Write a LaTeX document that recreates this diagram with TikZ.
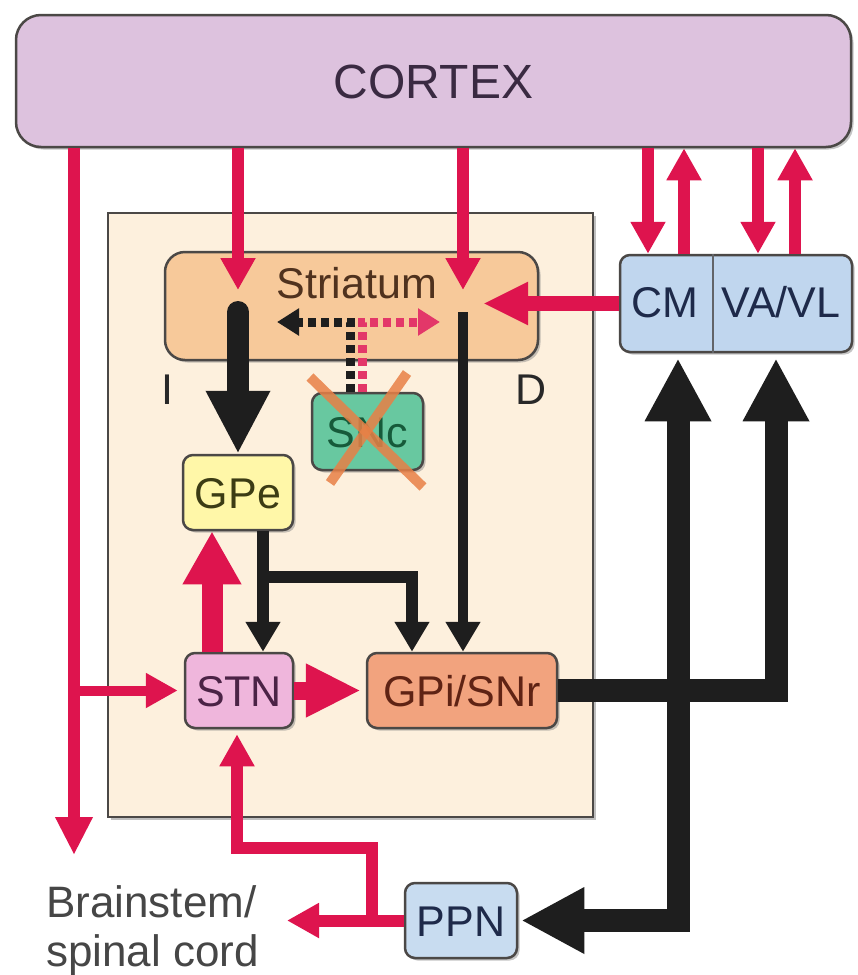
\documentclass[tikz,border=0pt]{standalone}
\usepackage{fontspec}
\setmainfont{Liberation Sans}
\usetikzlibrary{arrows.meta,shadows}
\definecolor{cred}{RGB}{222,20,78}
\definecolor{cblk}{RGB}{30,30,30}
\definecolor{boxline}{RGB}{75,72,70}
\definecolor{ccortex}{RGB}{221,194,222}
\definecolor{cbg}{RGB}{253,240,221}
\definecolor{cstr}{RGB}{247,201,154}
\definecolor{csnc}{RGB}{104,200,160}
\definecolor{cgpe}{RGB}{255,247,168}
\definecolor{cstn}{RGB}{239,182,220}
\definecolor{cgpi}{RGB}{242,163,126}
\definecolor{cthal}{RGB}{192,214,238}
\definecolor{cppn}{RGB}{200,220,240}
\definecolor{cx}{RGB}{232,128,70}
\begin{document}
\begin{tikzpicture}[x=1pt,y=-1pt,
  box/.style={draw=boxline, line width=2.5pt, rounded corners=10pt, inner sep=0pt,
    drop shadow={shadow xshift=2.5pt, shadow yshift=-2.5pt, opacity=0.45}},
  txt/.style={font=\fontsize{43}{50}\selectfont, text height=31pt, text depth=0pt, inner sep=0pt},
  redA/.style={draw=cred, line width=12pt, line join=miter, -{Triangle[length=32pt,width=33pt]}},
  redB/.style={draw=cred, line width=21pt, -{Triangle[length=53pt,width=55pt]}},
  blkA/.style={draw=cblk, line width=12pt, line join=miter, -{Triangle[length=30pt,width=33pt]}},
  blkB/.style={draw=cblk, line width=23pt, line join=miter, -{Triangle[length=63pt,width=62pt]}},
  dashk/.style={draw=cblk, line width=9pt, dash pattern=on 8pt off 5pt},
  dashr/.style={draw=cred!85!white, line width=9pt, dash pattern=on 8pt off 5pt}
]
\useasboundingbox (0,0) rectangle (858,975);
\fill[white] (0,0) rectangle (858,975);

% basal ganglia frame
\draw[draw=boxline, fill=cbg, line width=2.5pt,
  drop shadow={shadow xshift=3pt, shadow yshift=-3pt, opacity=0.5}] (108,213) rectangle (593,817);

% nodes
\node[box, fill=ccortex, rounded corners=25pt, minimum width=835pt, minimum height=132pt,
  font=\fontsize{48}{56}\selectfont, text height=34pt, text depth=0pt, text={rgb,255:red,58;green,42;blue,66}]
  (cortex) at (433.5,81) {CORTEX};
\node[box, fill=cstr, rounded corners=20pt, minimum width=373pt, minimum height=108pt] (striatum) at (351.5,306) {};
\node[txt, text={rgb,255:red,80;green,50;blue,30}] (strlabel) at (357,283) {Striatum};
\node[box, fill=csnc, minimum width=111pt, minimum height=77pt, txt, text={rgb,255:red,22;green,90;blue,58}] (snc) at (367.5,431.5) {SNc};
\node[box, fill=cgpe, minimum width=110pt, minimum height=75pt, txt, text={rgb,255:red,60;green,60;blue,20}] (gpe) at (238,492.5) {GPe};
\node[box, fill=cstn, minimum width=108pt, minimum height=75pt, txt, text={rgb,255:red,75;green,35;blue,70}] (stn) at (239,690.5) {STN};
\node[box, fill=cgpi, minimum width=190pt, minimum height=75pt, txt, text={rgb,255:red,95;green,35;blue,20}] (gpi) at (462,690.5) {GPi/SNr};
\node[box, fill=cthal, minimum width=232pt, minimum height=97pt] (thal) at (736,303.5) {};
\draw[draw=boxline!80!cthal, line width=2pt] (thal.north -| 713,0) -- (thal.south -| 713,0);
\node[txt, text={rgb,255:red,30;green,42;blue,74}] (cm) at (665,302) {CM};
\node[txt, text={rgb,255:red,30;green,42;blue,74}] (vavl) at (781,302) {VA/VL};
\node[box, fill=cppn, minimum width=112pt, minimum height=75pt, txt, text={rgb,255:red,30;green,42;blue,74}] (ppn) at (461,920.5) {PPN};

\node[txt, anchor=base, text={rgb,255:red,40;green,40;blue,40}] (ilab) at (167,404) {I};
\node[txt, anchor=base, text={rgb,255:red,40;green,40;blue,40}] (dlab) at (531,404) {D};

\node[font=\fontsize{44}{50}\selectfont, anchor=base west, inner sep=0pt, text={rgb,255:red,70;green,70;blue,70}] (bs1) at (46,917) {Brainstem/};
\node[font=\fontsize{44}{50}\selectfont, anchor=base west, inner sep=0pt, text={rgb,255:red,70;green,70;blue,70}] (bs2) at (46,966) {spinal cord};

% dopamine (dashed)
\draw[dashk, -{Triangle[length=22pt,width=26pt]}] (snc.north -| 350,0) -- (350,322) -- (277,322);
\draw[dashr, -{Triangle[length=22pt,width=26pt]}] (snc.north -| 362,0) -- (362,322) -- (440,322);

% cross over SNc
\draw[cx, opacity=0.85, line width=10pt] (310,377) -- (423,487);
\draw[cx, opacity=0.85, line width=10pt] (407,373) -- (330,483);

% cortex outputs
\coordinate (bsend) at (74,855);
\draw[redA, -{Triangle[length=38pt,width=35pt]}] (cortex.south -| 74,0) -- (bsend);
\draw[redA, line width=10pt] (74,690.5) -- ([xshift=-6pt]stn.west);
\draw[redA] (cortex.south -| 238,0) -- (238,290);
\draw[redA] (cortex.south -| 463,0) -- (463,290);
\draw[redA] (cortex.south -| 648,0) -- (thal.north -| 648,0);
\draw[redA] (thal.north -| 684,0) -- (cortex.south -| 684,0);
\draw[redA] (cortex.south -| 758,0) -- (thal.north -| 758,0);
\draw[redA] (thal.north -| 795,0) -- (cortex.south -| 795,0);

% thalamus -> striatum
\draw[redA, line width=15pt, -{Triangle[length=45pt,width=40pt]}] (thal.west) -- (483,303.5);

% striatum outputs
\draw[blkB, line cap=round, line width=22pt, -{Triangle[length=63pt,width=60pt]}] (238,312) -- (gpe.north);
\draw[blkA, line width=10pt] (463,312) -- (gpi.north -| 463,0);

% GPe outputs
\draw[blkA] (gpe.south -| 263,0) -- (stn.north -| 263,0);
\draw[blkA] (263,577) -- (412,577) -- (gpi.north -| 412,0);

% STN outputs
\draw[redB] (stn.north -| 212,0) -- (gpe.south -| 212,0);
\draw[redB, line width=18pt, -{Triangle[length=55pt,width=50pt]}] (stn.east) -- ([xshift=-5pt]gpi.west);

% GPi outputs
\draw[blkB] (gpi.east) -- (776,690.5) -- ([yshift=-5pt]thal.south -| 776,0);
\draw[blkB] (678,690.5) -- ([yshift=-5pt]thal.south -| 678,0);
\draw[blkB] (678,690.5) -- (678,920.5) -- ([xshift=3pt]ppn.east);

% PPN outputs
\coordinate (ppnend) at (287,920.5);
\draw[redA] (ppn.west) -- (ppnend);
\draw[redA] (372,920.5) -- (372,848) -- (237,848) -- ([yshift=-5pt]stn.south -| 237,0);
\end{tikzpicture}
\end{document}
